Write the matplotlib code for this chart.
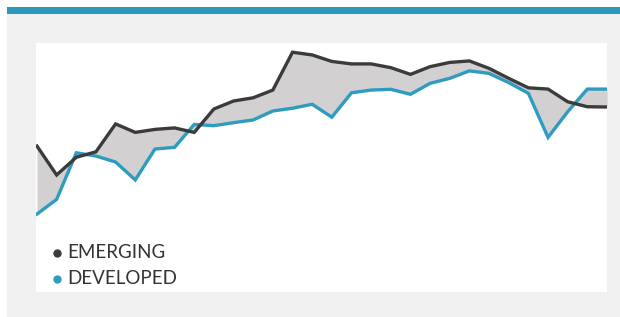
import matplotlib
matplotlib.use("Agg")
import matplotlib.pyplot as plt
from matplotlib.patches import Rectangle
from matplotlib.lines import Line2D

periods = list(range(30))
emerging = [58.6, 47.0, 54.1, 56.3, 67.5, 64.1, 65.3, 65.9, 64.1, 73.5,
            76.7, 78.0, 81.1, 96.3, 95.2, 92.6, 91.6, 91.6, 90.1, 87.4,
            90.5, 92.2, 92.8, 89.8, 85.8, 82.0, 81.5, 76.4, 74.4, 74.3]
developed = [31.3, 37.2, 55.9, 54.6, 52.2, 45.0, 57.4, 58.1, 67.3, 66.8,
             68.0, 69.1, 72.7, 73.8, 75.4, 70.2, 80.0, 81.1, 81.4, 79.4,
             83.8, 85.8, 88.8, 87.8, 84.1, 79.8, 62.1, 72.4, 81.5, 81.5]
series_labels = ["EMERGING", "DEVELOPED"]

C_EM = "#3b3b3b"
C_DEV = "#2e9cc0"
C_FILL = "#d2d0d1"
C_BAR = "#2b97bb"
C_BG = "#f1f1f1"

W, H = 620, 317
fig = plt.figure(figsize=(6.2, 3.17), dpi=100)
fig.patch.set_facecolor("white")

# gray panel and blue top bar
fig.patches.append(Rectangle((7 / W, 0), 1 - 7 / W, (H - 14) / H,
                             transform=fig.transFigure, facecolor=C_BG,
                             edgecolor="none", zorder=-10))
fig.patches.append(Rectangle((7 / W, (H - 14) / H), 1 - 7 / W, 7 / H,
                             transform=fig.transFigure, facecolor=C_BAR,
                             edgecolor="none", zorder=-10))

left, right = 36 / W, 607 / W
bottom, top = (H - 292) / H, (H - 43) / H
ax = fig.add_axes([left, bottom, right - left, top - bottom])
ax.set_zorder(5)
ax.set_facecolor("white")
for s in ax.spines.values():
    s.set_visible(False)
ax.set_xticks([])
ax.set_yticks([])
ax.set_xlim(-0.05, 29.0)
ax.set_ylim(0, 100)

ax.fill_between(periods, emerging, developed, color=C_FILL, linewidth=0, zorder=1)
ax.plot(periods, developed, color=C_DEV, linewidth=2.4, solid_joinstyle="miter", zorder=2)
ax.plot(periods, emerging, color=C_EM, linewidth=2.4, solid_joinstyle="miter", zorder=3)

# legend (manual placement in figure pixels)
for (label, color, ypx) in zip(series_labels, (C_EM, C_DEV), (253, 279)):
    yf = (H - ypx) / H
    fig.add_artist(Line2D([57 / W], [yf], marker="o", linestyle="none",
                          markersize=5, markerfacecolor=color,
                          markeredgecolor=color, transform=fig.transFigure,
                          zorder=10))
    fig.text(67 / W, yf, label, family="Lato", fontsize=13.5, color="#333333",
             ha="left", va="center", zorder=10)

fig.savefig("out.png", dpi=100, facecolor=fig.get_facecolor())
